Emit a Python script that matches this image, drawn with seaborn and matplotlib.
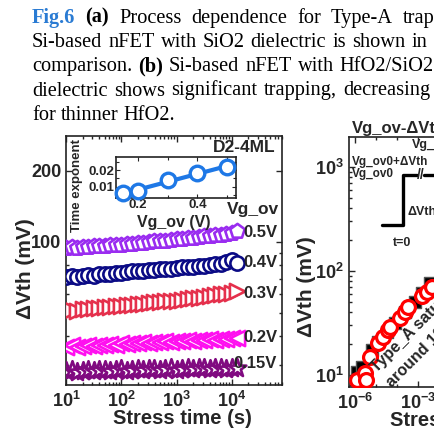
import matplotlib
matplotlib.use("Agg")
import matplotlib.pyplot as plt
import matplotlib.ticker as mticker
import numpy as np
import seaborn as sns

# ---------------- data ----------------
# (a) dVth vs stress time for several Vg_ov
stress_time = [10, 12.6, 15.8, 20, 25.1, 31.6, 39.8, 50.1, 63.1, 79.4,
               100, 126, 158, 200, 251, 316, 398, 501, 631, 794,
               1000, 1260, 1580, 2000, 2510, 3160, 3980, 5010, 6310, 7940,
               10000, 12600]
dvth_05 = [94, 95, 94.5, 95.5, 95, 96, 96.5, 96, 97, 97.5,
           97, 98, 98.5, 99, 99, 100, 100.5, 101, 101, 102,
           102.5, 103, 103.5, 104, 105, 105.5, 106, 107, 107.5, 108,
           109, 111]
dvth_04 = [71, 71.5, 71, 72, 72.5, 72, 73, 73, 73.5, 74,
           74, 74.5, 75, 75, 75.5, 76, 76, 76.5, 77, 77,
           77.5, 78, 78, 78.5, 79, 79.5, 80, 80.5, 81, 82.5,
           83.5, 81.5]
dvth_03 = [51, 51.5, 51, 52, 52, 52.5, 52.5, 53, 53, 53.5,
           53.5, 54, 54, 54.5, 54.5, 55, 55.5, 55.5, 56, 56.5,
           56.5, 57, 57.5, 58, 58, 58.5, 59, 59.5, 60, 60.5,
           61, 62]
dvth_02 = [36, 36.5, 36, 36.2, 36.5, 36.4, 36.8, 36.6, 37, 36.8,
           37.2, 37, 37.4, 37.2, 37.6, 37.4, 37.8, 37.6, 38, 37.8,
           38.2, 38, 38.4, 38.2, 38.6, 38.4, 38.8, 38.6, 39, 38.8,
           39.2, 39.4]
dvth_015 = [28.3, 28.6, 28.2, 28.5, 28.7, 28.3, 28.6, 28.8, 28.4, 28.7,
            28.9, 28.5, 28.8, 29.0, 28.6, 28.9, 29.1, 28.7, 29.0, 29.2,
            28.8, 29.1, 29.3, 28.9, 29.2, 29.4, 29.0, 29.3, 29.4, 29.1,
            29.4, 29.3]
series_labels = ["0.5V", "0.4V", "0.3V", "0.2V", "0.15V"]
series_values = [dvth_05, dvth_04, dvth_03, dvth_02, dvth_015]

# inset: time exponent vs Vg_ov
vg_ov = [0.15, 0.2, 0.3, 0.4, 0.5]
time_exp = [0.006, 0.007, 0.014, 0.018, 0.022]

# (b) partial panel
t_circ = [1.2e-6, 3.0e-6, 3.3e-6, 5.2e-6, 1.29e-5, 2.23e-5, 3.85e-5, 4.6e-5,
          1.39e-4, 2.4e-4, 3.45e-4, 1.5e-3, 2.6e-3, 4.5e-3]
dvth_circ = [8.95, 10.45, 8.95, 15.0, 20.2, 23.3, 27.1, 29.1,
             35.1, 40.6, 45.4, 57.5, 63.3, 70.6]
t_sq = [1.2e-6, 2.08e-6, 6.2e-6, 1.29e-5, 3.24e-5, 8.0e-5, 2.4e-4, 7.2e-4,
        1.5e-3, 3.7e-3]
dvth_sq = [10.8, 12.0, 17.4, 20.9, 26.1, 31.4, 40.6, 50.7, 61.1, 76.2]

# caption lines (word, colour, weight)
caption_lines = [
    [("Fig.6", "#2A7BD3", "bold"), ("(a)", "black", "bold"), ("Process", "black", "normal"),
     ("dependence", "black", "normal"), ("for", "black", "normal"),
     ("Type-A", "black", "normal"), ("traps", "black", "normal")],
    [("Si-based", "black", "normal"), ("nFET", "black", "normal"), ("with", "black", "normal"),
     ("SiO2", "black", "normal"), ("dielectric", "black", "normal"), ("is", "black", "normal"),
     ("shown", "black", "normal"), ("in", "black", "normal")],
    [("comparison.", "black", "normal"), ("(b)", "black", "bold"),
     ("Si-based", "black", "normal"), ("nFET", "black", "normal"),
     ("with", "black", "normal"), ("HfO2/SiO2", "black", "normal")],
    [("dielectric", "black", "normal"), ("shows", "black", "normal"),
     ("significant", "black", "normal"), ("trapping,", "black", "normal"),
     ("decreasing", "black", "normal")],
    [("for", "black", "normal"), ("thinner", "black", "normal"), ("HfO2.", "black", "normal")],
]

# ---------------- style ----------------
sns.set_style("ticks")
plt.rcParams["font.family"] = ["Liberation Sans", "DejaVu Sans"]
plt.rcParams["font.weight"] = "bold"
plt.rcParams["mathtext.fontset"] = "custom"
plt.rcParams["mathtext.rm"] = "Liberation Sans:bold"
plt.rcParams["mathtext.it"] = "Liberation Sans:bold"
plt.rcParams["mathtext.bf"] = "Liberation Sans:bold"
plt.rcParams["axes.linewidth"] = 1.2
plt.rcParams["axes.edgecolor"] = "#222222"

W, H = 435, 428
def fx(px):
    return px / W
def fy(py):
    return 1 - py / H

colors = ["#9A2CF0", "#0A0A85", "#E5304C", "#FF10F0", "#800A80"]
markers = ["p", "o", ">", "<", "*"]
sizes = [120, 105, 120, 120, 180]

fig = plt.figure(figsize=(4.35, 4.28), dpi=100)
renderer = fig.canvas.get_renderer()

# ---------------- caption (justified lines, clipped on the right) ----------------
serif = ["Liberation Serif", "DejaVu Serif"]
baselines = [22.7, 47.0, 71.3, 95.5, 119.5]
gaps = [10, 6, 6, 6.3, 5]
for base, gap, words in zip(baselines, gaps, caption_lines):
    x = 32
    for word, col, wt in words:
        t = fig.text(fx(x), fy(base), word, family=serif, fontsize=14.7, color=col,
                     fontweight=wt, ha="left", va="baseline")
        x += t.get_window_extent(renderer).width + gap

# ---------------- panel (a) ----------------
ax = fig.add_axes([fx(66), fy(385), 216 / W, 249 / H])
for lab, vals, mk, col, sz in zip(series_labels, series_values, markers, colors, sizes):
    sns.scatterplot(x=stress_time, y=vals, ax=ax, marker=mk, s=sz, color=col,
                    facecolor="white", edgecolor=col, linewidth=1.9, zorder=3,
                    legend=False)
ax.set_xscale("log")
ax.set_yscale("log")
ax.set_xlim(10, 8.1e4)
ax.set_ylim(24.8, 281)
ax.yaxis.set_major_locator(mticker.FixedLocator([100, 200]))
ax.yaxis.set_major_formatter(mticker.FixedFormatter(["100", "200"]))
ax.yaxis.set_minor_locator(mticker.LogLocator(base=10, subs=np.arange(2, 10)))
ax.yaxis.set_minor_formatter(mticker.NullFormatter())
ax.xaxis.set_major_locator(mticker.FixedLocator([10, 100, 1000, 10000]))
ax.xaxis.set_major_formatter(mticker.FixedFormatter(
    [r"$10^{1}$", r"$10^{2}$", r"$10^{3}$", r"$10^{4}$"]))
ax.xaxis.set_minor_locator(mticker.LogLocator(base=10, subs=np.arange(2, 10), numticks=20))
ax.xaxis.set_minor_formatter(mticker.NullFormatter())
ax.tick_params(which="both", direction="in", top=True, right=True, width=1.0)
ax.tick_params(which="major", length=4.5, labelsize=13, pad=4)
ax.tick_params(axis="y", which="major", pad=3.5)
ax.tick_params(which="minor", length=2.5)
ax.set_xlabel("")
ax.set_ylabel("")

label_pos = [(0.819, 0.614), (0.819, 0.49), (0.819, 0.369), (0.819, 0.189), (0.773, 0.088)]
for lab, (lx, ly) in zip(series_labels, label_pos):
    ax.text(lx, ly, lab, transform=ax.transAxes, fontsize=12, fontweight="bold",
            ha="left", va="center")
ax.text(0.745, 0.703, "Vg_ov", transform=ax.transAxes, fontsize=12.5,
        fontweight="bold", ha="left", va="center")
ax.text(0.968, 0.952, "D2-4ML", transform=ax.transAxes, fontsize=12.5,
        fontweight="bold", ha="right", va="center")

fig.text(fx(26), fy(269), "ΔVth (mV)", rotation=90, fontsize=15,
         fontweight="bold", ha="center", va="center")
fig.text(fx(182), fy(419), "Stress time (s)", fontsize=14.5,
         fontweight="bold", ha="center", va="center")

# inset
axi = fig.add_axes([fx(116), fy(198), 120 / W, 41 / H])
fit = np.polyfit(vg_ov, time_exp, 1)
line_x = np.array([0.13, 0.53])
sns.lineplot(x=line_x, y=np.polyval(fit, line_x), ax=axi, color="#1E78E6",
             linewidth=3, zorder=2)
sns.scatterplot(x=vg_ov, y=time_exp, ax=axi, marker="o", s=110, color="#1E78E6",
                facecolor="white", edgecolor="#1E78E6", linewidth=2.4, zorder=3,
                legend=False, clip_on=False)
axi.set_xlim(0.125, 0.53)
axi.set_ylim(0.003, 0.028)
axi.xaxis.set_major_locator(mticker.FixedLocator([0.2, 0.4]))
axi.xaxis.set_minor_locator(mticker.FixedLocator([0.3, 0.5]))
axi.yaxis.set_major_locator(mticker.FixedLocator([0.01, 0.02]))
axi.yaxis.set_minor_locator(mticker.FixedLocator([0.005, 0.015, 0.025]))
axi.tick_params(which="both", direction="in", top=True, right=True, width=0.8)
axi.tick_params(which="major", length=3, labelsize=9.5, pad=1)
axi.tick_params(which="minor", length=2)
axi.set_xlabel("")
axi.set_ylabel("")
fig.text(fx(174), fy(222), "Vg_ov (V)", fontsize=11.5, fontweight="bold",
         ha="center", va="center")
fig.text(fx(77), fy(186), "Time exponent", rotation=90, fontsize=9.5,
         fontweight="bold", ha="center", va="center")

# ---------------- panel (b), cut off at the right edge ----------------
axr = fig.add_axes([fx(349), fy(387), 216 / W, 250 / H])
sns.scatterplot(x=t_sq, y=dvth_sq, ax=axr, marker="s", s=85, color="black",
                edgecolor="#555555", linewidth=1.0, zorder=3, legend=False)
sns.scatterplot(x=t_circ, y=dvth_circ, ax=axr, marker="o", s=100, color="red",
                facecolor="white", edgecolor="red", linewidth=2.3, zorder=4,
                legend=False)
axr.set_xscale("log")
axr.set_yscale("log")
axr.set_xlim(10 ** -6.29, 1e4)
axr.set_ylim(7.67, 1942)
axr.xaxis.set_major_locator(mticker.FixedLocator([1e-6, 1e-3, 1, 1e3]))
axr.xaxis.set_major_formatter(mticker.FixedFormatter(
    [r"$10^{-6}$", r"$10^{-3}$", r"$10^{0}$", r"$10^{3}$"]))
axr.xaxis.set_minor_locator(mticker.FixedLocator([1e-5, 1e-4, 1e-2, 1e-1, 10, 100]))
axr.xaxis.set_minor_formatter(mticker.NullFormatter())
axr.yaxis.set_major_locator(mticker.FixedLocator([10, 100, 1000]))
axr.yaxis.set_major_formatter(mticker.FixedFormatter(
    [r"$10^{1}$", r"$10^{2}$", r"$10^{3}$"]))
axr.yaxis.set_minor_locator(mticker.LogLocator(base=10, subs=np.arange(2, 10)))
axr.yaxis.set_minor_formatter(mticker.NullFormatter())
axr.tick_params(which="both", direction="in", top=True, right=True, width=1.0)
axr.tick_params(which="major", length=4.5, labelsize=13, pad=4)
axr.tick_params(which="minor", length=2.5)
axr.set_xlabel("")
axr.set_ylabel("")

# gate pulse sketch
step_x = [0.153, 0.25, 0.25, 0.315]
step_y = [0.648, 0.648, 0.848, 0.848]
axr.plot(step_x, step_y, color="black", linewidth=2.4, transform=axr.transAxes)
axr.plot([0.345, 0.6], [0.848, 0.848], color="black", linewidth=2.4,
         transform=axr.transAxes)
axr.text(0.33, 0.848, "//", transform=axr.transAxes, fontsize=10,
         fontweight="bold", ha="center", va="center")
axr.text(0.014, 0.898, "Vg_ov0+ΔVth", transform=axr.transAxes, fontsize=8.5,
         fontweight="bold", ha="left", va="center")
axr.text(0.014, 0.850, "Vg_ov0", transform=axr.transAxes, fontsize=8.5,
         fontweight="bold", ha="left", va="center")
axr.text(0.29, 0.968, "Vg_ov", transform=axr.transAxes, fontsize=9,
         fontweight="bold", ha="left", va="center")
axr.text(0.273, 0.70, "ΔVth", transform=axr.transAxes, fontsize=9,
         fontweight="bold", ha="left", va="center")
axr.text(0.245, 0.576, "t=0", transform=axr.transAxes, fontsize=9,
         fontweight="bold", ha="center", va="center")
fig.text(fx(377), fy(373), "Type_A saturates", rotation=45, rotation_mode="anchor",
         fontsize=11.5, fontweight="bold", ha="left", va="baseline", zorder=5)
fig.text(fx(392), fy(388), "around 10 mV", rotation=45, rotation_mode="anchor",
         fontsize=11.5, fontweight="bold", ha="left", va="baseline", zorder=5)

fig.text(fx(352), fy(128), "Vg_ov-ΔVth", fontsize=12, fontweight="bold",
         ha="left", va="center")
fig.text(fx(307), fy(287), "ΔVth (mV)", rotation=90, fontsize=15,
         fontweight="bold", ha="center", va="center")
fig.text(fx(390), fy(420), "Stress time (s)", fontsize=14.5,
         fontweight="bold", ha="left", va="center")

fig.savefig("out.png", dpi=100)
